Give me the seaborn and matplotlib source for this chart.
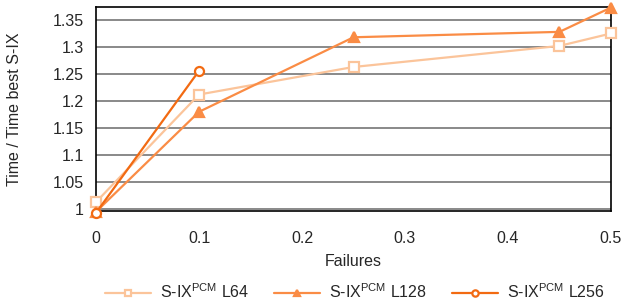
import matplotlib
matplotlib.use("Agg")
import matplotlib.pyplot as plt
import seaborn as sns
import pandas as pd

# data
x_l64 = [0.0, 0.1, 0.25, 0.45, 0.5]
y_l64 = [1.013, 1.212, 1.263, 1.302, 1.325]
x_l128 = [0.0, 0.1, 0.25, 0.45, 0.5]
y_l128 = [0.995, 1.180, 1.318, 1.328, 1.373]
x_l256 = [0.0, 0.1]
y_l256 = [0.993, 1.256]
labels = [r"S-IX$^{\mathrm{PCM}}$ L64", r"S-IX$^{\mathrm{PCM}}$ L128", r"S-IX$^{\mathrm{PCM}}$ L256"]
x_ticks = [0, 0.1, 0.2, 0.3, 0.4, 0.5]
x_ticklabels = ["0", "0.1", "0.2", "0.3", "0.4", "0.5"]
y_ticks = [1, 1.05, 1.1, 1.15, 1.2, 1.25, 1.3, 1.35]
y_ticklabels = ["1", "1.05", "1.1", "1.15", "1.2", "1.25", "1.3", "1.35"]

sns.set_style("white")
plt.rcParams["font.family"] = ["Liberation Sans", "DejaVu Sans"]
plt.rcParams["mathtext.fontset"] = "custom"
plt.rcParams["mathtext.rm"] = "Liberation Sans"
plt.rcParams["font.size"] = 11

fig = plt.figure(figsize=(6.26, 3.05), dpi=100)
ax = fig.add_axes([0.1534, 0.308, 0.8226, 0.669])

series = [
    (x_l64, y_l64, "#FBC49A", "s", "white", 6.5),
    (x_l128, y_l128, "#FA8C45", "^", "#FA8C45", 7),
    (x_l256, y_l256, "#F26A12", "o", "white", 6.5),
]
for (xs, ys, col, mk, mfc, ms), lab in zip(series, labels):
    df = pd.DataFrame({"x": xs, "y": ys})
    sns.lineplot(data=df, x="x", y="y", ax=ax, color=col, marker=mk, markersize=ms,
                 markerfacecolor=mfc, markeredgecolor=col, markeredgewidth=1.6,
                 linewidth=1.6, label=lab, clip_on=False, zorder=3)

ax.set_xlim(0, 0.5)
ax.set_ylim(0.9963, 1.374)
ax.set_xticks(x_ticks)
ax.set_xticklabels(x_ticklabels)
ax.set_yticks(y_ticks)
ax.set_yticklabels(y_ticklabels)
ax.yaxis.grid(True, color="#808080", linewidth=1.3)
ax.xaxis.grid(False)
for s in ax.spines.values():
    s.set_color("black")
    s.set_linewidth(1.2)
ax.tick_params(axis="x", direction="out", length=6, width=1, color="black", pad=8, labelsize=11.5)
ax.tick_params(axis="y", direction="out", length=5, width=1.3, color="#606060", pad=4, labelsize=11.5)
ax.set_xlabel("Failures", fontsize=11.5, labelpad=6)
ax.set_ylabel("Time / Time best S-IX", fontsize=11.5)
ax.yaxis.set_label_coords(-0.143, 0.5)

ax.legend(loc="center", bbox_to_anchor=(0.567, 0.043), bbox_transform=fig.transFigure,
          ncol=3, frameon=False, handlelength=2.9, columnspacing=1.55, handletextpad=0.55,
          markerscale=0.7, fontsize=11.5, borderpad=0, borderaxespad=0)

fig.savefig("out.png", dpi=100)
